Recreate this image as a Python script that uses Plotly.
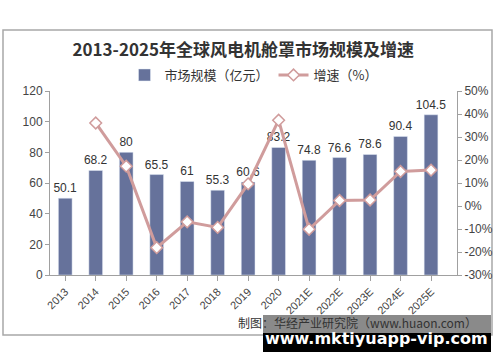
import plotly.graph_objects as go

years = ["2013", "2014", "2015", "2016", "2017", "2018", "2019", "2020",
         "2021E", "2022E", "2023E", "2024E", "2025E"]
market_size = [50.1, 68.2, 80, 65.5, 61, 55.3, 60.6, 83.2, 74.8, 76.6, 78.6, 90.4, 104.5]
growth_years = years[1:]
growth_pct = [36.1, 17.3, -18.1, -6.9, -9.3, 9.6, 37.3, -10.1, 2.4, 2.6, 15.0, 15.6]
left_ticks = [0, 20, 40, 60, 80, 100, 120]
right_ticks = [-30, -20, -10, 0, 10, 20, 30, 40, 50]
right_tick_labels = [f"{v}%" for v in right_ticks]

W, H = 500, 362
L, R, T, B = 50, 43, 91, 87
pw, ph = W - L - R, H - T - B

def px(x):
    return (x - L) / pw

def py(y):
    return (H - B - y) / ph

FONT = "Liberation Sans, Arial, Noto Sans CJK SC, sans-serif"
CJK = "Noto Sans CJK SC, sans-serif"

fig = go.Figure()
fig.add_trace(go.Bar(
    x=years, y=market_size, name="市场规模（亿元）",
    marker=dict(color="#66729B"), width=0.45,
    text=[f"{v:g}" for v in market_size], textposition="outside",
    textfont=dict(size=12, color="#333333", family=FONT),
    constraintext="none", cliponaxis=False,
))
fig.add_trace(go.Scatter(
    x=growth_years, y=growth_pct, name="增速（%）", yaxis="y2",
    mode="lines+markers",
    line=dict(color="#D09C9C", width=3),
    marker=dict(symbol="diamond", size=9, color="white",
                line=dict(color="#D09C9C", width=1.5)),
    cliponaxis=False,
))

fig.update_layout(
    width=W, height=H,
    margin=dict(l=L, r=R, t=T, b=B, autoexpand=False),
    paper_bgcolor="white", plot_bgcolor="white",
    showlegend=True,
    legend=dict(orientation="h", x=0.5, xanchor="center", y=py(75), yanchor="middle",
                font=dict(size=13, color="#333333", family=CJK),
                bgcolor="rgba(0,0,0,0)", itemwidth=30, tracegroupgap=0),
    title=dict(text="<b>2013-2025年全球风电机舱罩市场规模及增速</b>",
               x=px(248), xanchor="center", y=1 - 50 / H, yanchor="middle",
               font=dict(size=17, color="#333333", family=CJK)),
    xaxis=dict(type="category", showline=True, linecolor="#A0A0A0", linewidth=1,
               ticks="outside", ticklen=5, tickcolor="#A0A0A0", automargin=False,
               tickangle=-45, tickfont=dict(size=11, color="#444444", family=FONT),
               showgrid=False, zeroline=False),
    yaxis=dict(range=[0, 120], tickvals=left_ticks, showline=True, linecolor="#A0A0A0",
               ticks="outside", ticklen=4, tickcolor="#A0A0A0", automargin=False,
               tickfont=dict(size=12, color="#444444", family=FONT),
               showgrid=False, zeroline=False),
    yaxis2=dict(range=[-30, 50], tickmode="array", tickvals=right_ticks,
                ticktext=right_tick_labels,
                overlaying="y", side="right", showline=True, linecolor="#A0A0A0",
                ticks="outside", ticklen=4, tickcolor="#A0A0A0", automargin=False,
                tickfont=dict(size=12, color="#444444", family=FONT),
                showgrid=False, zeroline=False),
    bargap=0.55,
)

# outer frame
fig.add_shape(type="rect", xref="paper", yref="paper",
              x0=px(3), x1=px(492), y0=py(335), y1=py(30),
              line=dict(color="#A8A8A8", width=1.5), layer="below")

# source note
fig.add_annotation(text="制图：华经产业研究院（www.huaon.com）", xref="paper", yref="paper",
                   x=px(479), y=py(322), xanchor="right", yanchor="middle",
                   showarrow=False, font=dict(size=12, color="#333333", family=CJK))

# watermark overlay
fig.add_shape(type="rect", xref="paper", yref="paper",
              x0=px(263), x1=px(491), y0=py(352), y1=py(333),
              fillcolor="black", line=dict(width=0), layer="above")
fig.add_shape(type="rect", xref="paper", yref="paper",
              x0=px(263), x1=px(491), y0=py(333), y1=py(315),
              fillcolor="rgba(60,60,60,0.6)", line=dict(width=0), layer="above")
fig.add_annotation(text="<b>www.mktiyuapp-vip.com</b>", xref="paper", yref="paper",
                   x=px(376), y=py(338), xanchor="center", yanchor="middle",
                   showarrow=False, font=dict(size=16, color="white", family="DejaVu Sans, sans-serif"))

fig.write_html("out.html", config={"displayModeBar": False},
               post_script="document.body.style.margin='0';document.body.style.padding='0';")
